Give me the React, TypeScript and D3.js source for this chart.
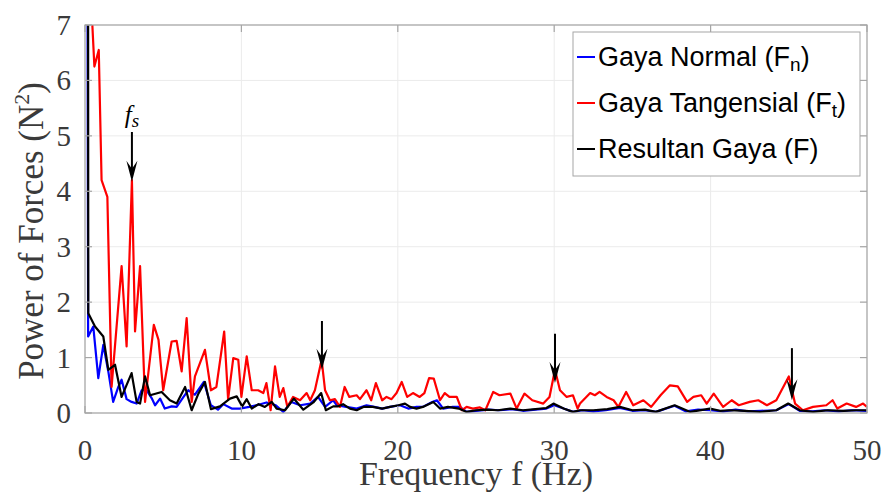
import * as d3 from 'd3';

const width = 885;
const height = 492;
const marginTop = 25;
const marginRight = 18;
const marginBottom = 79;
const marginLeft = 85;

type Pt = [number, number];

// Gaya Normal (Fn) — frequency (Hz), power (N^2)
const normalForce: Pt[] = [
  [0.02, 30], [0.2, 1.38], [0.53, 1.56], [0.85, 0.63], [1.17, 1.23], [1.49, 0.75], [1.8, 0.2],
  [2.13, 0.47], [2.34, 0.6], [2.66, 0.25], [2.98, 0.2], [3.3, 0.17], [3.62, 0.41], [3.94, 0.41],
  [4.26, 0.27], [4.48, 0.14], [4.8, 0.26], [5.1, 0.08], [5.54, 0.12], [5.86, 0.11], [6.3, 0.29],
  [6.6, 0.41], [7.03, 0.33], [7.6, 0.56], [8.05, 0.14], [8.5, 0.06], [8.84, 0.16], [9.38, 0.08],
  [9.9, 0.08], [10.5, 0.11], [11.1, 0.15], [11.6, 0.19], [12.2, 0.14], [12.68, 0.02], [13.2, 0.2],
  [13.75, 0.14], [14.4, 0.17], [14.9, 0.29], [15.35, 0.11], [15.87, 0.23], [16.1, 0.14], [16.7, 0.11],
  [17.37, 0.08], [18.0, 0.14], [18.5, 0.11], [19.0, 0.08], [19.5, 0.11], [20.14, 0.14], [20.67, 0.08],
  [21.2, 0.11], [21.6, 0.11], [22.2, 0.2], [22.5, 0.23], [22.9, 0.08], [23.5, 0.11], [23.97, 0.11],
  [24.4, 0.02], [25.0, 0.04], [25.8, 0.06], [26.5, 0.05], [27.3, 0.07], [28.0, 0.04], [28.8, 0.06],
  [29.5, 0.08], [30.0, 0.14], [30.6, 0.08], [31.2, 0.02], [31.8, 0.05], [32.5, 0.03], [33.3, 0.05],
  [34.2, 0.09], [35.0, 0.04], [35.8, 0.05], [36.5, 0.02], [37.7, 0.13], [38.4, 0.03], [39.2, 0.06],
  [40.0, 0.05], [40.8, 0.03], [41.6, 0.06], [42.4, 0.03], [43.2, 0.04], [44.2, 0.05], [45.0, 0.16],
  [45.7, 0.04], [46.5, 0.03], [47.3, 0.05], [48.2, 0.03], [49.0, 0.05], [50, 0.04],
];

// Gaya Tangensial (Ft)
const tangentialForce: Pt[] = [
  [0, 40], [0.4, 7.4], [0.6, 6.25], [0.88, 6.55], [1.06, 4.2], [1.43, 3.9], [1.7, 0.47], [2.34, 2.65],
  [2.66, 1.2], [3.0, 4.2], [3.2, 1.47], [3.52, 2.65], [3.84, 0.2], [4.4, 1.59], [4.7, 1.32], [5.0, 0.41],
  [5.54, 1.29], [5.86, 1.3], [6.18, 0.75], [6.5, 1.71], [6.82, 0.2], [7.03, 0.66], [7.35, 0.9],
  [7.67, 1.14], [8.05, 0.41], [8.4, 0.47], [8.9, 1.47], [9.15, 0.25], [9.48, 0.99], [9.8, 0.96],
  [10.0, 0.29], [10.34, 1.02], [10.66, 0.41], [11.07, 0.41], [11.4, 0.36], [11.6, 0.54], [11.87, 0.05],
  [12.15, 0.84], [12.45, 0.29], [12.68, 0.45], [12.94, 0.11], [13.3, 0.29], [13.75, 0.23], [14.17, 0.36],
  [14.4, 0.23], [14.7, 0.41], [15.13, 0.96], [15.35, 0.41], [15.66, 0.23], [15.98, 0.25], [16.3, 0.11],
  [16.6, 0.47], [16.9, 0.29], [17.37, 0.32], [17.58, 0.25], [18.0, 0.41], [18.3, 0.23], [18.6, 0.54],
  [19.0, 0.23], [19.28, 0.29], [19.6, 0.25], [19.92, 0.36], [20.25, 0.56], [20.6, 0.29], [20.97, 0.36],
  [21.4, 0.29], [21.7, 0.36], [22.0, 0.63], [22.3, 0.62], [22.7, 0.23], [23.0, 0.36], [23.3, 0.29],
  [23.77, 0.29], [24.1, 0.05], [24.4, 0.11], [24.8, 0.08], [25.25, 0.1], [25.6, 0.05], [26.1, 0.38],
  [26.5, 0.32], [27.2, 0.35], [27.6, 0.08], [28.1, 0.35], [28.6, 0.23], [29.3, 0.17], [29.7, 0.29],
  [30.05, 0.78], [30.37, 0.41], [30.8, 0.29], [31.2, 0.32], [31.5, 0.08], [31.65, 0.17], [32.3, 0.36],
  [32.6, 0.32], [32.9, 0.38], [33.35, 0.29], [33.8, 0.23], [34.1, 0.11], [34.6, 0.38], [35.05, 0.14],
  [35.7, 0.23], [36.2, 0.11], [36.8, 0.32], [37.4, 0.5], [37.9, 0.48], [38.5, 0.2], [38.9, 0.29],
  [39.4, 0.32], [39.75, 0.17], [40.2, 0.35], [40.8, 0.11], [41.35, 0.23], [41.8, 0.14], [42.5, 0.2],
  [43.05, 0.23], [43.6, 0.14], [44.2, 0.23], [45.0, 0.66], [45.4, 0.17], [45.9, 0.05], [46.55, 0.11],
  [47.4, 0.14], [47.8, 0.23], [48.1, 0.08], [48.7, 0.17], [49.3, 0.11], [49.75, 0.17], [50, 0.11],
];

// Resultan Gaya (F)
const resultantForce: Pt[] = [
  [0.15, 30], [0.21, 1.8], [0.64, 1.56], [1.17, 1.38], [1.49, 0.78], [1.92, 0.87], [2.34, 0.29],
  [2.98, 0.72], [3.3, 0.2], [3.52, 0.17], [3.84, 0.66], [4.16, 0.32], [4.9, 0.38], [5.43, 0.23],
  [5.86, 0.17], [6.4, 0.47], [6.82, 0.05], [7.25, 0.35], [7.67, 0.56], [8.05, 0.07], [8.63, 0.12],
  [9.27, 0.26], [9.7, 0.3], [10.05, 0.12], [10.34, 0.25], [10.66, 0.08], [11.1, 0.16], [11.5, 0.11],
  [11.94, 0.2], [12.25, 0.08], [12.79, 0.05], [13.35, 0.26], [13.96, 0.06], [14.6, 0.19], [15.1, 0.36],
  [15.4, 0.05], [15.87, 0.12], [16.2, 0.12], [16.5, 0.16], [16.94, 0.08], [17.37, 0.05], [17.8, 0.11],
  [18.4, 0.11], [19.0, 0.08], [19.5, 0.11], [20.04, 0.14], [20.46, 0.17], [20.78, 0.11], [21.2, 0.08],
  [21.6, 0.11], [22.27, 0.2], [22.7, 0.08], [23.2, 0.11], [23.9, 0.08], [24.4, 0.02], [25.0, 0.05],
  [25.7, 0.06], [26.4, 0.05], [27.2, 0.08], [28.0, 0.05], [28.8, 0.07], [29.5, 0.09], [29.95, 0.17],
  [30.6, 0.08], [31.2, 0.02], [31.65, 0.05], [32.5, 0.05], [33.4, 0.07], [34.2, 0.11], [35.0, 0.05],
  [35.8, 0.06], [36.5, 0.02], [37.7, 0.14], [38.7, 0.02], [39.96, 0.08], [40.6, 0.04], [41.2, 0.05],
  [42.2, 0.04], [43.16, 0.02], [44.2, 0.05], [44.96, 0.17], [45.7, 0.05], [46.55, 0.02], [47.5, 0.05],
  [48.5, 0.04], [49.3, 0.05], [50, 0.05],
];

const xTicks = [0, 10, 20, 30, 40, 50];
const yTicks = [0, 1, 2, 3, 4, 5, 6, 7];

const legendItems = [
  { main: 'Gaya Normal (F', sub: 'n', color: '#0000ff' },
  { main: 'Gaya Tangensial (F', sub: 't', color: '#ff0000' },
  { main: 'Resultan Gaya (F)', sub: '', color: '#000000' },
];

// peak markers: frequency, arrow start and tip (N^2)
const arrows = [
  { f: 3.0, top: 5.07, tip: 4.17 },
  { f: 15.15, top: 1.66, tip: 0.78 },
  { f: 30.05, top: 1.43, tip: 0.54 },
  { f: 45.2, top: 1.17, tip: 0.23 },
];
const fsLabel = { f: 3.0, y: 5.23 };

export default function App() {
  const x = d3.scaleLinear().domain([0, 50]).range([marginLeft, width - marginRight]);
  const y = d3.scaleLinear().domain([0, 7]).range([height - marginBottom, marginTop]);

  const line = d3
    .line<Pt>()
    .x((d) => x(d[0]))
    .y((d) => y(d[1]));

  const x0 = x(0);
  const x1 = x(50);
  const y0 = y(0);
  const y1 = y(7);
  const serif = '"Liberation Serif", "Times New Roman", serif';
  const sans = '"Liberation Sans", Arial, sans-serif';
  const axisColor = '#a6a6a6';
  const textColor = '#3a3a3a';

  const legendX = 573;
  const legendY = 32;

  return (
    <svg
      width={width}
      height={height}
      style={{ position: 'absolute', left: 0, top: 0, background: '#fff' }}
    >
      <defs>
        <clipPath id="plot-clip">
          <rect x={x0} y={y1} width={x1 - x0} height={y0 - y1} />
        </clipPath>
      </defs>

      {/* grid */}
      <g stroke="#ebebeb" strokeWidth={1}>
        {xTicks.map((t) => (
          <line key={'gx' + t} x1={x(t)} x2={x(t)} y1={y1} y2={y0} />
        ))}
        {yTicks.map((t) => (
          <line key={'gy' + t} x1={x0} x2={x1} y1={y(t)} y2={y(t)} />
        ))}
      </g>

      {/* series */}
      <g clipPath="url(#plot-clip)" fill="none" strokeWidth={2.2} strokeLinejoin="round">
        <path d={line(normalForce) ?? ''} stroke="#0000ff" />
        <path d={line(tangentialForce) ?? ''} stroke="#ff0000" />
        <path d={line(resultantForce) ?? ''} stroke="#000000" />
      </g>

      {/* box + ticks */}
      <rect x={x0} y={y1} width={x1 - x0} height={y0 - y1} fill="none" stroke={axisColor} strokeWidth={1.2} />
      <g stroke={axisColor} strokeWidth={1.2}>
        {xTicks.map((t) => (
          <g key={'tx' + t}>
            <line x1={x(t)} x2={x(t)} y1={y0} y2={y0 - 7} />
            <line x1={x(t)} x2={x(t)} y1={y1} y2={y1 + 7} />
          </g>
        ))}
        {yTicks.map((t) => (
          <g key={'ty' + t}>
            <line x1={x0} x2={x0 + 7} y1={y(t)} y2={y(t)} />
            <line x1={x1} x2={x1 - 7} y1={y(t)} y2={y(t)} />
          </g>
        ))}
      </g>

      {/* tick labels */}
      <g fontFamily={serif} fontSize={29} fill={textColor}>
        {xTicks.map((t) => (
          <text key={'lx' + t} x={x(t)} y={y0 + 47} textAnchor="middle">
            {t}
          </text>
        ))}
        {yTicks.map((t) => (
          <text key={'ly' + t} x={x0 - 14} y={y(t) + 10} textAnchor="end">
            {t}
          </text>
        ))}
      </g>

      {/* axis titles */}
      <text x={(x0 + x1) / 2} y={485} textAnchor="middle" fontFamily={serif} fontSize={34} fill={textColor}>
        Frequency f (Hz)
      </text>
      <text
        transform={`translate(43,${(y0 + y1) / 2 + 12}) rotate(-90)`}
        textAnchor="middle"
        fontFamily={serif}
        fontSize={35}
        fill={textColor}
      >
        Power of Forces (N
        <tspan fontSize={22} dy={-14}>
          2
        </tspan>
        <tspan dy={14}>)</tspan>
      </text>

      {/* peak arrows */}
      <g>
        {arrows.map((a, i) => {
          const ax = x(a.f);
          const tipY = y(a.tip);
          return (
            <g key={'ar' + i}>
              <line x1={ax} x2={ax} y1={y(a.top)} y2={tipY - 10} stroke="#000" strokeWidth={2} />
              <path
                d={`M${ax},${tipY} L${ax - 5.5},${tipY - 21} L${ax},${tipY - 13} L${ax + 5.5},${tipY - 21} Z`}
                fill="#000"
              />
            </g>
          );
        })}
        <text x={x(fsLabel.f)} y={y(fsLabel.y)} textAnchor="middle" fontFamily={serif} fontStyle="italic" fontSize={25} fill="#000">
          f
          <tspan fontSize={19} dy={4}>
            s
          </tspan>
        </text>
      </g>

      {/* legend */}
      <g>
        <rect x={legendX} y={legendY} width={287} height={144} fill="#fff" stroke="#a6a6a6" strokeWidth={1} />
        {legendItems.map((item, i) => {
          const base = legendY + 34 + i * 46;
          return (
            <g key={'lg' + i}>
              <line x1={legendX + 4} x2={legendX + 22} y1={base - 9} y2={base - 9} stroke={item.color} strokeWidth={2} />
              <text x={legendX + 25} y={base} fontFamily={sans} fontSize={27} fill="#000">
                {item.main}
                {item.sub && (
                  <>
                    <tspan fontSize={19} dy={5}>
                      {item.sub}
                    </tspan>
                    <tspan dy={-5}>)</tspan>
                  </>
                )}
              </text>
            </g>
          );
        })}
      </g>
    </svg>
  );
}
